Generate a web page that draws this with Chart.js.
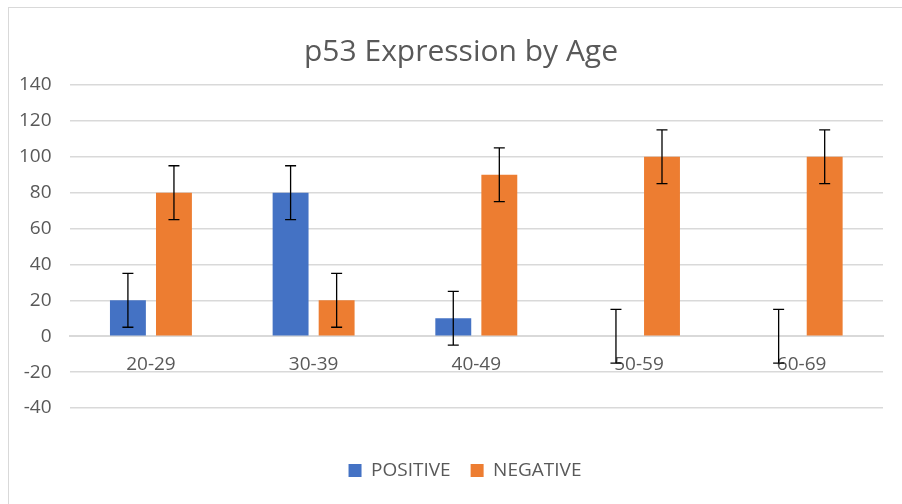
<!DOCTYPE html>
<html>
<head>
<meta charset="utf-8">
<script src="https://cdn.jsdelivr.net/npm/chart.js@4"></script>
<style>
  body { margin: 0; background: #fff; }
  #wrap { position: relative; width: 902px; height: 504px; }
  #frame { position: absolute; left: 8px; top: 7px; width: 910px; height: 520px; border: 1px solid #d9d9d9; pointer-events: none; }
</style>
</head>
<body>
<div id="wrap">
  <canvas id="chart" width="902" height="504"></canvas>
  <div id="frame"></div>
</div>
<script>
const categories = ['20-29', '30-39', '40-49', '50-59', '60-69'];
const positiveValues = [20, 80, 10, 0, 0];
const negativeValues = [80, 20, 90, 100, 100];
const positiveErrors = [15, 15, 15, 15, 15];
const negativeErrors = [15, 15, 15, 15, 15];

// エラーバー描画
const errorBarPlugin = {
    id: 'errorBars',
    afterDatasetsDraw(chart) {
        const ctx = chart.ctx;
        const yScale = chart.scales.y;
        chart.data.datasets.forEach((ds, i) => {
            const meta = chart.getDatasetMeta(i);
            meta.data.forEach((bar, j) => {
                const v = ds.data[j];
                const e = ds.errors[j];
                const top = yScale.getPixelForValue(v + e);
                const bottom = yScale.getPixelForValue(v - e);
                ctx.save();
                ctx.strokeStyle = '#000';
                ctx.lineWidth = 1.3;
                ctx.beginPath();
                ctx.moveTo(bar.x, top);
                ctx.lineTo(bar.x, bottom);
                ctx.moveTo(bar.x - 5.5, top);
                ctx.lineTo(bar.x + 5.5, top);
                ctx.moveTo(bar.x - 5.5, bottom);
                ctx.lineTo(bar.x + 5.5, bottom);
                ctx.stroke();
                ctx.restore();
            });
        });
    }
};

// タイトルと凡例を少し右へ(元のグラフは右側が切れている)
const shiftPlugin = {
    id: 'shiftBlocks',
    afterLayout(chart) {
        chart.titleBlock.left += 19;
        chart.titleBlock.right += 19;
        chart.legend.left += 23;
        chart.legend.right += 23;
    }
};

const ctx = document.getElementById('chart').getContext('2d');
new Chart(ctx, {
    type: 'bar',
    data: {
        labels: categories,
        datasets: [{
            label: 'POSITIVE',
            data: positiveValues,
            errors: positiveErrors,
            backgroundColor: '#4472C4',
            categoryPercentage: 0.566,
            barPercentage: 0.78
        }, {
            label: 'NEGATIVE',
            data: negativeValues,
            errors: negativeErrors,
            backgroundColor: '#ED7D31',
            categoryPercentage: 0.566,
            barPercentage: 0.78
        }]
    },
    options: {
        responsive: false,
        animation: false,
        layout: { padding: { top: 34, left: 1, right: 19, bottom: 14 } },
        plugins: {
            title: {
                display: true,
                text: 'p53 Expression by Age',
                color: '#595959',
                font: { family: 'Open Sans', size: 30, weight: 'normal' },
                padding: { top: 0, bottom: 15 }
            },
            legend: {
                position: 'bottom',
                title: { display: true, text: ' ', font: { size: 10 }, padding: { top: 9, bottom: 12 } },
                labels: {
                    color: '#595959',
                    font: { family: 'Open Sans', size: 19 },
                    boxWidth: 13,
                    boxHeight: 13,
                    padding: 20
                }
            },
            tooltip: { enabled: false }
        },
        scales: {
            x: {
                position: { y: 0 },
                grid: { display: false },
                border: { color: '#d9d9d9', width: 2 },
                ticks: {
                    color: '#595959',
                    font: { family: 'Open Sans', size: 19 },
                    padding: 9
                }
            },
            y: {
                min: -40,
                max: 140,
                ticks: {
                    stepSize: 20,
                    color: '#595959',
                    font: { family: 'Open Sans', size: 19 },
                    padding: 18
                },
                grid: { color: '#d9d9d9', lineWidth: 1.5, drawTicks: false },
                border: { display: false }
            }
        }
    },
    plugins: [errorBarPlugin, shiftPlugin]
});
</script>
</body>
</html>
